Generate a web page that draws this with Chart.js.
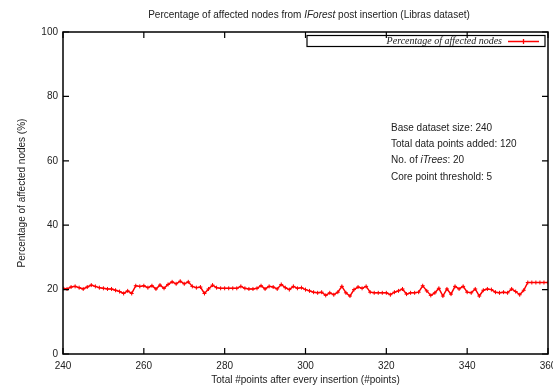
<!DOCTYPE html>
<html>
<head>
<meta charset="utf-8">
<script src="https://cdn.jsdelivr.net/npm/chart.js@4"></script>
<style>
  html, body { margin: 0; padding: 0; background: #fff; }
  #wrap { width: 553px; height: 386px; }
</style>
</head>
<body>
<div id="wrap"><canvas id="affectedChart" width="553" height="386"></canvas></div>
<script>
'use strict';

// x: total #points after every insertion (one point per insertion)
var firstPoint = 240;
// y: percentage of affected nodes (%)
var affectedPct = [
  20.4, 20.2, 20.8, 21.0, 20.6, 20.2, 20.8, 21.4, 21.0, 20.6,
  20.4, 20.2, 20.2, 19.8, 19.4, 18.8, 19.6, 18.8, 21.2, 21.0,
  21.2, 20.6, 21.2, 20.2, 21.4, 20.4, 21.6, 22.4, 21.8, 22.6,
  21.8, 22.4, 21.0, 20.6, 20.8, 18.8, 20.2, 21.4, 20.6, 20.4,
  20.4, 20.4, 20.4, 20.4, 21.0, 20.4, 20.2, 20.2, 20.4, 21.2,
  20.2, 21.0, 20.8, 20.2, 21.6, 20.6, 20.0, 21.0, 20.4, 20.6,
  20.0, 19.6, 19.2, 19.0, 19.2, 18.2, 19.0, 18.4, 19.2, 21.0,
  19.0, 18.0, 20.0, 20.8, 20.4, 21.0, 19.2, 19.0, 19.0, 19.0,
  19.0, 18.4, 19.2, 19.6, 20.2, 18.6, 19.0, 19.0, 19.2, 21.2,
  19.6, 18.2, 19.0, 20.4, 18.0, 20.2, 18.6, 21.0, 20.2, 21.0,
  19.2, 19.0, 20.2, 18.0, 19.8, 20.2, 20.0, 19.2, 19.0, 19.2,
  19.0, 20.2, 19.4, 18.4, 19.8, 22.2, 22.2, 22.2, 22.2, 22.2,
  22.2
];
var xTicks = [240, 260, 280, 300, 320, 340, 360];
var yTicks = [0, 20, 40, 60, 80, 100];
var infoLines = [
  [['Base dataset size: 240', false]],
  [['Total data points added: 120', false]],
  [['No. of ', false], ['iTrees', true], [': 20', false]],
  [['Core point threshold: 5', false]]
];
var titleParts = [
  ['Percentage of affected nodes from ', false],
  ['IForest', true],
  [' post insertion (Libras dataset)', false]
];
var seriesName = 'Percentage of affected nodes';

var points = affectedPct.map(function(v, i) {
  return { x: firstPoint + i, y: v };
});

var FONT = '"Liberation Sans", Arial, sans-serif';
Chart.defaults.font.family = FONT;
Chart.defaults.font.size = 10;
Chart.defaults.color = '#222';

function drawParts(ctx, parts, x, y, align) {
  var widths = parts.map(function(p) {
    ctx.font = (p[1] ? 'italic ' : '') + '10px ' + FONT;
    return ctx.measureText(p[0]).width;
  });
  var total = widths.reduce(function(a, b) { return a + b; }, 0);
  var cx = align === 'center' ? x - total / 2 : x;
  ctx.textAlign = 'left';
  ctx.textBaseline = 'middle';
  parts.forEach(function(p, i) {
    ctx.font = (p[1] ? 'italic ' : '') + '10px ' + FONT;
    ctx.fillText(p[0], cx, y);
    cx += widths[i];
  });
}

// frame, inward ticks, title, legend and info text (gnuplot look)
var gnuplotDecor = {
  id: 'gnuplotDecor',
  afterDraw: function(chart) {
    var ctx = chart.ctx;
    var a = chart.chartArea;
    var xs = chart.scales.x, ys = chart.scales.y;
    ctx.save();
    ctx.strokeStyle = '#000';
    ctx.lineWidth = 1.5;
    ctx.strokeRect(a.left, a.top, a.right - a.left, a.bottom - a.top);
    ctx.lineWidth = 1.2;
    ctx.beginPath();
    xTicks.forEach(function(t) {
      var px = xs.getPixelForValue(t);
      ctx.moveTo(px, a.bottom); ctx.lineTo(px, a.bottom - 6);
      ctx.moveTo(px, a.top); ctx.lineTo(px, a.top + 6);
    });
    yTicks.forEach(function(t) {
      var py = ys.getPixelForValue(t);
      ctx.moveTo(a.left, py); ctx.lineTo(a.left + 6, py);
      ctx.moveTo(a.right, py); ctx.lineTo(a.right - 6, py);
    });
    ctx.stroke();

    ctx.fillStyle = '#222';
    drawParts(ctx, titleParts, 309, 15, 'center');

    // legend box
    ctx.lineWidth = 1.2;
    ctx.strokeRect(307, 35.5, 238, 11);
    ctx.font = 'italic 10px "Liberation Serif", "Times New Roman", serif';
    ctx.textAlign = 'right';
    ctx.textBaseline = 'middle';
    ctx.fillText(seriesName, 502, 41.5);
    ctx.strokeStyle = '#ff0000';
    ctx.lineWidth = 1.3;
    ctx.beginPath();
    ctx.moveTo(508, 41.5); ctx.lineTo(539, 41.5);
    ctx.moveTo(523.5, 39); ctx.lineTo(523.5, 44);
    ctx.stroke();

    ctx.fillStyle = '#222';
    var iy = [128, 144, 160, 177];
    infoLines.forEach(function(line, i) {
      drawParts(ctx, line, 391, iy[i], 'left');
    });
    ctx.restore();
  }
};

new Chart(document.getElementById('affectedChart'), {
  type: 'line',
  data: {
    datasets: [{
      label: seriesName,
      data: points,
      borderColor: '#ff0000',
      backgroundColor: '#ff0000',
      borderWidth: 1.5,
      pointStyle: 'cross',
      pointRadius: 2,
      pointBorderWidth: 1,
      pointBorderColor: '#ff0000',
      tension: 0
    }]
  },
  options: {
    responsive: false,
    animation: false,
    layout: { padding: { top: 32, right: 3, left: 0, bottom: 0 } },
    plugins: {
      legend: { display: false },
      tooltip: { enabled: false },
      title: { display: false }
    },
    scales: {
      x: {
        type: 'linear',
        min: 240,
        max: 360,
        grid: { display: false, drawTicks: false },
        border: { display: false },
        ticks: { stepSize: 20, padding: 6, maxRotation: 0, color: '#222' },
        title: {
          display: true,
          text: 'Total #points after every insertion (#points)',
          padding: { top: 0, bottom: 0 },
          color: '#222'
        },
        afterFit: function(scale) {
          scale.height = 32;
          scale.paddingLeft = 0;
          scale.paddingRight = 0;
        }
      },
      y: {
        min: 0,
        max: 100,
        grid: { display: false, drawTicks: false },
        border: { display: false },
        ticks: { stepSize: 20, padding: 5, color: '#222' },
        title: {
          display: true,
          text: 'Percentage of affected nodes (%)',
          padding: { top: 16, bottom: 0 },
          color: '#222'
        },
        afterFit: function(scale) {
          scale.width = 63;
          scale.paddingTop = 0;
          scale.paddingBottom = 0;
        }
      }
    }
  },
  plugins: [gnuplotDecor]
});
</script>
</body>
</html>
